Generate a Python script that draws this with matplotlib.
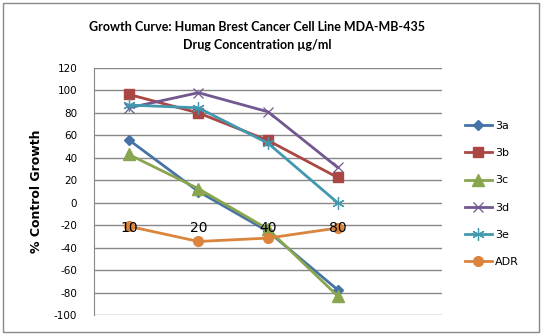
import matplotlib
matplotlib.use('Agg')
import matplotlib.pyplot as plt
from matplotlib.patches import Rectangle

concs = ['10', '20', '40', '80']
s3a = [56, 10, -25.5, -77.5]
s3b = [96.5, 80, 55.5, 22.5]
s3c = [43, 12.5, -23.5, -83]
s3d = [84.5, 98, 81, 31.5]
s3e = [87, 84.5, 53, 0]
adr = [-21, -34.5, -31.5, -22.5]
names = ['3a', '3b', '3c', '3d', '3e', 'ADR']
yticks = list(range(-100, 121, 20))

fig = plt.figure(figsize=(5.42, 3.35), dpi=100)
fig.patches.append(Rectangle((3 / 542, 3 / 335), 536 / 542, 329 / 335, transform=fig.transFigure,
                             fill=False, edgecolor='#888888', linewidth=1))

ax = fig.add_axes([94 / 542, 20 / 335, 348 / 542, 247 / 335])
x = list(range(len(concs)))

styles = [
    dict(color='#4572A7', marker='D', markersize=5),
    dict(color='#AA4643', marker='s', markersize=7),
    dict(color='#89A54E', marker='^', markersize=8),
    dict(color='#71588F', marker='x', markersize=7, markeredgewidth=0.9),
    dict(color='#4198AF', marker=(6, 2, 0), markersize=9, markeredgewidth=0.9),
    dict(color='#DB843D', marker='o', markersize=7),
]
for vals, name, st in zip([s3a, s3b, s3c, s3d, s3e, adr], names, styles):
    ax.plot(x, vals, linewidth=2, label=name, **st)

ax.set_xlim(-0.5, 4.5)
ax.set_ylim(-100, 120)
ax.set_yticks(yticks)
ax.set_yticklabels([str(v) for v in yticks], fontsize=7.5)
ax.set_xticks(x)
ax.set_xticklabels(concs, fontsize=7.5)
ax.spines['bottom'].set_position(('data', 0))
ax.spines['bottom'].set_visible(False)
ax.spines['top'].set_visible(False)
ax.spines['right'].set_visible(False)
ax.spines['left'].set_color('#888888')
ax.tick_params(axis='x', length=0, pad=13)
ax.tick_params(axis='y', length=0, pad=12)
ax.grid(axis='y', color='#888888', linewidth=1)
ax.set_axisbelow(True)
ax.xaxis.set_zorder(5)
ax.set_ylabel('% Control Growth', fontsize=9, fontweight='bold', labelpad=8)

fig.text(257 / 542, 1 - 27 / 335, 'Growth Curve: Human Brest Cancer Cell Line MDA-MB-435',
         ha='center', va='center', fontsize=9, fontweight='bold', family='Lato')
fig.text(257 / 542, 1 - 45 / 335, 'Drug Concentration µg/ml',
         ha='center', va='center', fontsize=9, fontweight='bold', family='Lato')

fig.legend(loc='upper left', bbox_to_anchor=(455 / 542, 1 - 111 / 335), frameon=False,
           fontsize=8, labelspacing=1.55, handlelength=2.4, handletextpad=0.3)

fig.savefig('out.png', dpi=100)
